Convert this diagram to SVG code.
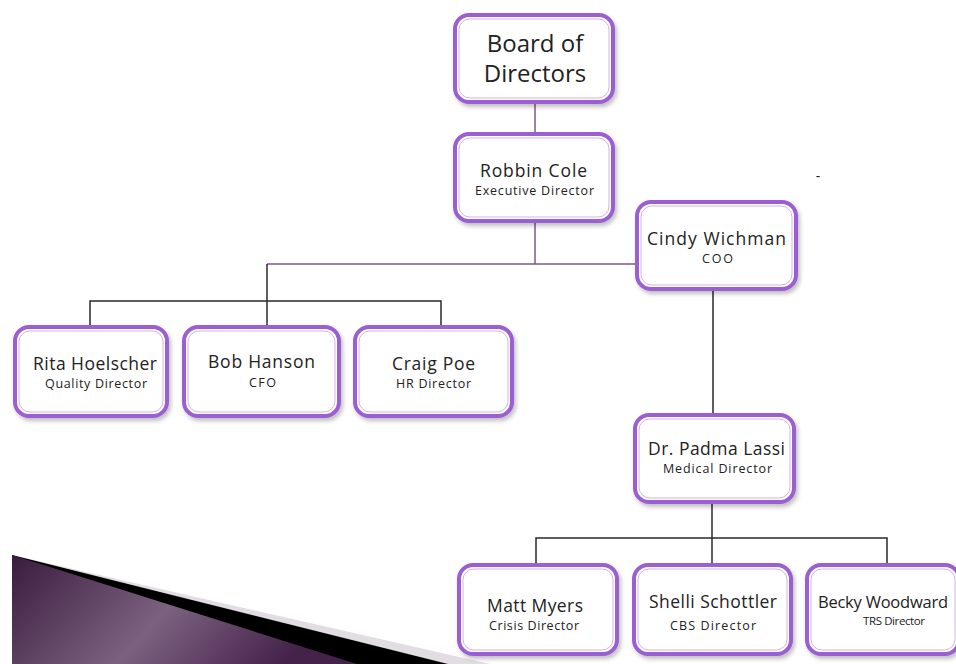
<svg xmlns="http://www.w3.org/2000/svg" width="956" height="664" viewBox="0 0 956 664">
<defs>
<style>
.box{fill:#fff;stroke:#9c5fd2;stroke-width:4;filter:url(#sh)}
.inner{fill:none;stroke:#d2b3ec;stroke-width:1}
.nm{font-family:"Open Sans","DejaVu Sans",sans-serif;font-size:17.5px;fill:#222;text-anchor:middle}
.sub{font-family:"Open Sans","DejaVu Sans",sans-serif;font-size:12.5px;fill:#222;text-anchor:middle}
.big{font-family:"Open Sans","DejaVu Sans",sans-serif;font-size:24px;fill:#222;text-anchor:middle}
.cp{stroke:#7c5b85;stroke-width:1.5;fill:none}
.cd{stroke:#2a2a2a;stroke-width:1.5;fill:none}
</style>
<filter id="sh" x="-10%" y="-10%" width="125%" height="130%">
<feDropShadow dx="2" dy="3" stdDeviation="2" flood-color="#000" flood-opacity="0.25"/>
</filter>
<linearGradient id="pg" x1="0" y1="0" x2="1" y2="0.3">
<stop offset="0" stop-color="#3a1c3e"/>
<stop offset="0.55" stop-color="#7c6180"/>
<stop offset="1" stop-color="#44224a"/>
</linearGradient>
</defs>
<rect width="956" height="664" fill="#fff"/>
<g id="wedge">
<polygon points="12,555 490,664 12,664" fill="#e2dde3"/>
<polygon points="12,555 448,664 12,664" fill="#000"/>
<polygon points="12,555 357,664 12,664" fill="url(#pg)"/>
</g>
<g id="connectors">
<path class="cp" d="M535,103V132"/>
<path class="cp" d="M535,222V264M267,264H638"/>
<path class="cd" d="M267,264V325"/>
<path class="cd" d="M90,325V301H441V325"/>
<path class="cd" d="M713,290V413"/>
<path class="cd" d="M712,503V563"/>
<path class="cd" d="M536,563V538H887V563"/>
</g>
<g id="board">
<rect class="box" x="455" y="15" width="158" height="87" rx="14"/>
<rect class="inner" x="459" y="19" width="150" height="79" rx="11"/>
<text class="big" x="535" y="52">Board of</text>
<text class="big" x="535" y="82">Directors</text>
</g>
<g id="robbin">
<rect class="box" x="455" y="134" width="158" height="87" rx="14"/>
<rect class="inner" x="459" y="138" width="150" height="79" rx="11"/>
<text class="nm" x="533.5" y="177" textLength="107" lengthAdjust="spacing">Robbin Cole</text>
<text class="sub" x="534.5" y="195" textLength="119" lengthAdjust="spacing">Executive Director</text>
</g>
<g id="cindy">
<rect class="box" x="637" y="202" width="159" height="87" rx="14"/>
<rect class="inner" x="641" y="206" width="151" height="79" rx="11"/>
<text class="nm" x="716.5" y="245" textLength="139" lengthAdjust="spacing">Cindy Wichman</text>
<text class="sub" x="717.5" y="263" textLength="31" lengthAdjust="spacing">COO</text>
</g>
<g id="rita">
<rect class="box" x="15" y="327" width="152" height="89" rx="14"/>
<rect class="inner" x="19" y="331" width="144" height="81" rx="11"/>
<text class="nm" x="95" y="370" textLength="124" lengthAdjust="spacing">Rita Hoelscher</text>
<text class="sub" x="96" y="388" textLength="102" lengthAdjust="spacing">Quality Director</text>
</g>
<g id="bob">
<rect class="box" x="184" y="327" width="155" height="89" rx="14"/>
<rect class="inner" x="188" y="331" width="147" height="81" rx="11"/>
<text class="nm" x="261.5" y="368" textLength="107" lengthAdjust="spacing">Bob Hanson</text>
<text class="sub" x="262.5" y="387" textLength="27" lengthAdjust="spacing">CFO</text>
</g>
<g id="craig">
<rect class="box" x="355" y="327" width="157" height="89" rx="14"/>
<rect class="inner" x="359" y="331" width="149" height="81" rx="11"/>
<text class="nm" x="433.5" y="370" textLength="83" lengthAdjust="spacing">Craig Poe</text>
<text class="sub" x="433.5" y="388" textLength="75" lengthAdjust="spacing">HR Director</text>
</g>
<g id="padma">
<rect class="box" x="635" y="415" width="159" height="87" rx="14"/>
<rect class="inner" x="639" y="419" width="151" height="79" rx="11"/>
<text class="nm" x="716.5" y="455" textLength="137" lengthAdjust="spacing">Dr. Padma Lassi</text>
<text class="sub" x="717.5" y="473" textLength="109" lengthAdjust="spacing">Medical Director</text>
</g>
<g id="matt">
<rect class="box" x="459" y="565" width="158" height="89" rx="14"/>
<rect class="inner" x="463" y="569" width="150" height="81" rx="11"/>
<text class="nm" x="535" y="612" textLength="96" lengthAdjust="spacing">Matt Myers</text>
<text class="sub" x="534" y="630" textLength="90" lengthAdjust="spacing">Crisis Director</text>
</g>
<g id="shelli">
<rect class="box" x="634" y="565" width="157" height="89" rx="14"/>
<rect class="inner" x="638" y="569" width="149" height="81" rx="11"/>
<text class="nm" x="713" y="608" textLength="128" lengthAdjust="spacing">Shelli Schottler</text>
<text class="sub" x="713" y="630" textLength="86" lengthAdjust="spacing">CBS Director</text>
</g>
<g id="becky">
<rect class="box" x="807" y="565" width="152" height="89" rx="14"/>
<rect class="inner" x="811" y="569" width="144" height="81" rx="11"/>
<text class="nm" x="883" y="608" style="font-size:16.5px" textLength="130" lengthAdjust="spacing">Becky Woodward</text>
<text class="sub" x="894" y="625" style="font-size:11.5px" textLength="62" lengthAdjust="spacing">TRS Director</text>
</g>
<text x="818" y="181" font-family="Open Sans, sans-serif" font-size="14" fill="#222" text-anchor="middle">-</text>
</svg>
